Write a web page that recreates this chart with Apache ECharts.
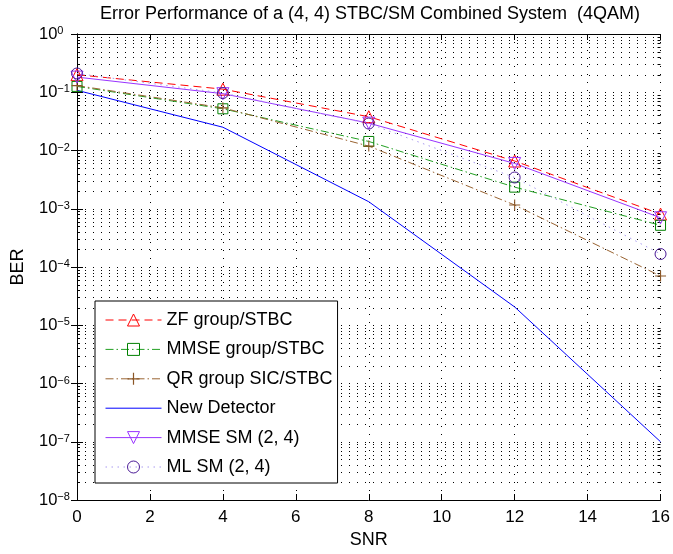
<!DOCTYPE html>
<html><head><meta charset="utf-8">
<script src="https://cdn.jsdelivr.net/npm/echarts@6/dist/echarts.min.js"></script>
<style>html,body{margin:0;padding:0;background:#fff}#c{width:673px;height:554px}</style>
</head><body><div id="c"></div>
<script>
// ---- data ----
const snr = [0, 4, 8, 12, 16];
const zfGroupStbc   = [0.2,   0.113,  0.038,   0.0066,    0.00081];
const mmseGroupStbc = [0.126, 0.052,  0.0143,  0.00235,   0.00052];
const qrGroupSic    = [0.13,  0.054,  0.0119,  0.00116,   0.00007];
const newDetector   = [0.108, 0.0251, 0.00132, 0.0000206, 0.0000001];
const mmseSm24      = [0.182, 0.0945, 0.0295,  0.006,     0.0007];
const mlSm24        = [0.21,  0.097,  0.029,   0.00344,   0.000167];
const seriesNames = ['ZF group/STBC', 'MMSE group/STBC', 'QR group SIC/STBC', 'New Detector', 'MMSE SM (2, 4)', 'ML SM (2, 4)'];
const xTickInterval = 2;
const yMin = 1e-8, yMax = 1;
const titleText = 'Error Performance of a (4, 4) STBC/SM Combined System  (4QAM)';

// minor log ticks (2..9 x each decade)
const minorYTicks = [];
for (let d = -8; d < 0; d++) for (let k = 2; k <= 9; k++) minorYTicks.push(k * Math.pow(10, d));

const FONT = "'Liberation Sans', Arial, Helvetica, sans-serif";
const FS = 18;
const pts = arr => snr.map((x, i) => [x, arr[i]]);
const plusPath = 'path://M4.5,0H5.5V4.5H10V5.5H5.5V10H4.5V5.5H0V4.5H4.5Z';
const hollow = c => ({color: 'rgba(0,0,0,0)', borderColor: c, borderWidth: 1});

const defs = [
  {name: seriesNames[0], data: zfGroupStbc, line: '#ff0000', dash: [8, 5], symbol: 'triangle', size: 12, item: hollow('#ff0000'), rot: 0},
  {name: seriesNames[1], data: mmseGroupStbc, line: '#22a022', dash: [8, 3, 1.5, 3], symbol: 'rect', size: 10, item: hollow('#008000'), rot: 0},
  {name: seriesNames[2], data: qrGroupSic, line: '#9a6432', dash: [8, 3, 1.5, 3], symbol: plusPath, size: 11, item: {color: '#8a5626', borderWidth: 0}, rot: 0},
  {name: seriesNames[3], data: newDetector, line: '#0000ff', dash: 'solid', symbol: 'circle', size: 0, item: {color: 'rgba(0,0,0,0)', borderWidth: 0}, rot: 0},
  {name: seriesNames[4], data: mmseSm24, line: '#9933ff', dash: 'solid', symbol: 'triangle', size: 12, item: hollow('#9933ff'), rot: 180},
  {name: seriesNames[5], data: mlSm24, line: '#a899f0', dash: [1.5, 4.5], symbol: 'circle', size: 11, item: hollow('#4b1a96'), rot: 0}
];

const chart = echarts.init(document.getElementById('c'), null, {renderer: 'canvas'});

const lineSeries = defs.map(d => ({
  type: 'line', name: d.name, data: pts(d.data), xAxisIndex: 0, yAxisIndex: 0,
  symbol: d.symbol, symbolSize: d.size, symbolRotate: d.rot, showSymbol: d.size > 0,
  lineStyle: {color: d.line, width: 1, type: d.dash},
  itemStyle: d.item, emphasis: {disabled: true}, animation: false, z: 3
}));

const minorSeries = {
  type: 'custom', name: '_minor', xAxisIndex: 0, yAxisIndex: 0, silent: true, z: 1, animation: false,
  data: minorYTicks.map(v => [0, v]),
  renderItem: function (params, api) {
    const cs = params.coordSys;
    const y = Math.round(api.coord([0, api.value(1)])[1]) + 0.5;
    const x0 = cs.x, x1 = cs.x + cs.width;
    return {type: 'group', children: [
      {type: 'line', shape: {x1: x0, y1: y, x2: x1, y2: y}, style: {stroke: '#000', lineWidth: 1, lineDash: [1, 7]}},
      {type: 'line', shape: {x1: x0, y1: y, x2: x0 + 3, y2: y}, style: {stroke: '#000', lineWidth: 1}},
      {type: 'line', shape: {x1: x1 - 3, y1: y, x2: x1, y2: y}, style: {stroke: '#000', lineWidth: 1}}
    ]};
  }
};

const axisLineBlack = {show: true, lineStyle: {color: '#000', width: 1}};
const tickIn = {show: true, inside: true, length: 6, lineStyle: {color: '#000', width: 1}};
const dotted = {show: true, lineStyle: {color: '#000', width: 1, type: [1, 7]}};

const option = {
  backgroundColor: '#fff',
  animation: false,
  textStyle: {fontFamily: FONT},
  title: {
    text: titleText, left: 370, top: 5, textAlign: 'center', padding: 0,
    textStyle: {fontFamily: FONT, fontSize: FS, fontWeight: 'normal', color: '#000'}
  },
  grid: {left: 77, right: 9, top: 34, bottom: 51, containLabel: false},
  xAxis: [
    {type: 'value', position: 'bottom', min: 0, max: 16, interval: xTickInterval,
     axisLine: axisLineBlack, axisTick: tickIn, splitLine: dotted,
     axisLabel: {color: '#000', fontSize: 17, fontFamily: FONT, margin: 9},
     name: 'SNR', nameLocation: 'middle', nameGap: 31,
     nameTextStyle: {color: '#000', fontSize: FS, fontFamily: FONT}},
    {type: 'value', position: 'top', min: 0, max: 16, interval: xTickInterval,
     axisLine: axisLineBlack, axisTick: tickIn, splitLine: {show: false}, axisLabel: {show: false}}
  ],
  yAxis: [
    {type: 'log', logBase: 10, position: 'left', min: yMin, max: yMax,
     axisLine: axisLineBlack, axisTick: tickIn, splitLine: dotted,
     axisLabel: {
       margin: 38, align: 'left', color: '#000', fontFamily: FONT,
       formatter: function (v) {
         const e = Math.round(Math.log10(v));
         return '{b|10}{s|' + (e < 0 ? '\u2212' : '') + Math.abs(e) + '}';
       },
       rich: {
         b: {fontSize: 16.5, lineHeight: 17, fontFamily: FONT, color: '#000', padding: [5, 0, 5, 0]},
         s: {fontSize: 11, lineHeight: 11, fontFamily: FONT, color: '#000', verticalAlign: 'top'}
       }
     },
     name: 'BER', nameLocation: 'middle', nameGap: 50,
     nameTextStyle: {color: '#000', fontSize: FS, fontFamily: FONT}},
    {type: 'log', logBase: 10, position: 'right', min: yMin, max: yMax,
     axisLine: axisLineBlack, axisTick: tickIn, splitLine: {show: false}, axisLabel: {show: false}}
  ],
  legend: {
    orient: 'vertical', left: 95, top: 301, selectedMode: false,
    itemWidth: 56, itemHeight: 15, itemGap: 11.4,
    padding: [10, 5, 7, 10],
    backgroundColor: '#fff', borderColor: '#000', borderWidth: 1, borderRadius: 0,
    textStyle: {fontSize: FS, color: '#000', fontFamily: FONT},
    data: defs.map(d => ({
      name: d.name,
      itemStyle: Object.assign({}, d.item, d.size === 0 ? {color: 'rgba(0,0,0,0)', borderWidth: 0} : {}),
      lineStyle: {color: d.line, width: 1, type: d.dash}
    })),
    z: 10
  },
  series: [minorSeries].concat(lineSeries)
};
chart.setOption(option);
</script>
</body></html>
